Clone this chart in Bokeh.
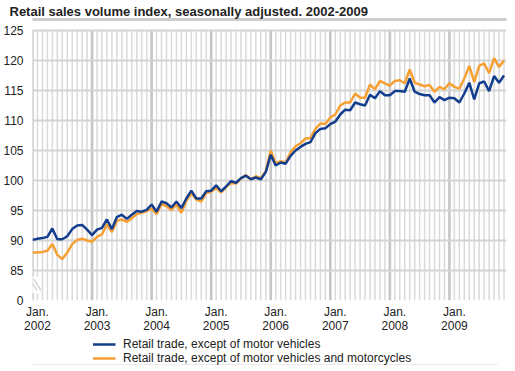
from bokeh.plotting import figure
from bokeh.layouts import column
from bokeh.models import (Range1d, FixedTicker, Legend, LegendItem,
                          BoxAnnotation, Arrow, LinearAxis)
from bokeh.embed import file_html
from bokeh.resources import INLINE

title_text = "Retail sales volume index, seasonally adjusted. 2002-2009"
series_names = ["Retail trade, except of motor vehicles",
                "Retail trade, except of motor vehicles and motorcycles"]
years = [2002, 2003, 2004, 2005, 2006, 2007, 2008, 2009]
months = list(range(96))  # Jan 2002 .. Dec 2009

blue_values = [
    90.1, 90.3, 90.4, 90.6, 92.0, 90.2, 90.2, 90.7, 91.9, 92.5, 92.6, 91.8,
    90.9, 91.8, 92.1, 93.5, 91.9, 93.9, 94.3, 93.6, 94.3, 94.9, 94.8, 95.1,
    96.0, 94.8, 96.5, 96.2, 95.5, 96.5, 95.4, 97.0, 98.3, 97.0, 97.0, 98.2,
    98.3, 99.2, 98.2, 99.0, 99.9, 99.6, 100.4, 100.8, 100.2, 100.5, 100.2, 101.4,
    104.3, 102.5, 103.0, 102.8, 104.1, 105.0, 105.6, 106.1, 106.4, 107.9, 108.6, 108.7,
    109.4, 109.8, 111.0, 111.8, 111.7, 113.0, 112.7, 112.5, 114.3, 113.7, 114.9, 114.2,
    114.2, 114.9, 114.9, 114.8, 117.0, 114.8, 114.4, 114.2, 114.2, 113.0, 113.9, 113.4,
    113.8, 113.7, 113.0, 114.5, 116.3, 113.5, 116.2, 116.5, 114.9, 117.4, 116.3, 117.5,
]
orange_values = [
    88.0, 88.0, 88.1, 88.3, 89.4, 87.6, 86.9, 88.0, 89.4, 90.1, 90.3, 90.0,
    89.8, 90.6, 91.0, 92.7, 91.4, 93.3, 93.5, 93.1, 93.7, 94.4, 94.6, 94.9,
    95.3, 94.4, 96.1, 95.7, 95.1, 96.0, 94.6, 96.6, 97.9, 96.8, 96.5, 97.9,
    98.1, 98.8, 98.0, 98.9, 99.6, 99.5, 100.3, 100.9, 100.2, 100.7, 100.4, 101.6,
    105.0, 102.9, 103.2, 103.0, 104.7, 105.7, 106.2, 107.0, 107.1, 108.6, 109.5, 109.4,
    110.5, 111.0, 112.5, 113.0, 113.0, 114.5, 113.8, 113.8, 116.0, 115.2, 116.6, 116.2,
    115.8, 116.6, 116.7, 116.2, 118.5, 116.3, 116.0, 115.7, 115.9, 114.8, 115.6, 115.2,
    116.2, 115.6, 115.3, 117.0, 119.1, 116.4, 119.1, 119.5, 117.9, 120.4, 118.9, 120.0,
]

y_ticks = [80, 85, 90, 95, 100, 105, 110, 115, 120, 125]
y_tick_labels = ["0", "85", "90", "95", "100", "105", "110", "115", "120", "125"]
x_tick_labels = ["Jan.\n%d" % y for y in years]

BLUE = "#133d8d"
ORANGE = "#f6a033"
FONT = "Liberation Sans"
TXT = "#222222"
W = 499


def rule_axis(color, width):
    return LinearAxis(ticker=FixedTicker(ticks=[]), axis_line_color=color,
                      axis_line_width=width, major_tick_line_color=None,
                      minor_tick_line_color=None, major_label_text_font_size="0px",
                      major_label_standoff=0, major_tick_out=0, minor_tick_out=0,
                      major_tick_in=0, minor_tick_in=0)


# ---------------- main chart ----------------
p = figure(width=None, height=None, frame_width=474, frame_height=281,
           output_backend="svg", toolbar_location=None,
           title=title_text, x_range=Range1d(0, 95.5), y_range=Range1d(80, 126.83),
           min_border_left=22, min_border_right=2, min_border_top=0,
           min_border_bottom=0, outline_line_color=None)

p.title.text_font = FONT
p.title.text_font_size = "13px"
p.title.text_font_style = "bold"
p.title.text_color = TXT
p.title.align = "left"
p.title.offset = -23
p.title.standoff = 2

# grids
jan_idx = [m for m in months if m % 12 == 0]
other_idx = [m for m in months if m % 12 != 0]
p.xgrid.visible = False
y_lo, y_hi = y_ticks[0], y_ticks[-1]
p.segment(x0=other_idx, y0=[y_lo] * len(other_idx), x1=other_idx,
          y1=[y_hi] * len(other_idx), line_color="#dadada", line_width=1.5,
          level="underlay")
p.segment(x0=jan_idx, y0=[y_lo] * len(jan_idx), x1=jan_idx,
          y1=[y_hi] * len(jan_idx), line_color="#c6c6c6", line_width=2.6,
          level="underlay")
p.ygrid.ticker = FixedTicker(ticks=y_ticks)
p.ygrid.grid_line_color = "#d3d3d3"
p.ygrid.grid_line_width = 1.8

# axes
xa = p.below[0]
ya = p.left[0]
label_pos = [m + 1 for m in jan_idx]
xa.ticker = FixedTicker(ticks=label_pos)
xa.major_label_overrides = {pos: lab for pos, lab in zip(label_pos, x_tick_labels)}
ya.ticker = FixedTicker(ticks=y_ticks)
ya.major_label_overrides = {tk: lab for tk, lab in zip(y_ticks, y_tick_labels)}
for ax in (xa, ya):
    ax.axis_line_color = None
    ax.major_tick_line_color = None
    ax.minor_tick_line_color = None
    ax.major_label_text_font = FONT
    ax.major_label_text_font_size = "12px"
    ax.major_label_text_color = TXT
xa.major_label_standoff = -2
xa.major_label_text_line_height = 1.05
ya.major_label_standoff = 3

# grey rule between title and plot
p.add_layout(rule_axis("#cdcdcd", 3), "above")

# axis break marker
p.add_layout(BoxAnnotation(left=-1, right=1.5, bottom=81.2, top=84.0,
                           fill_color="white", fill_alpha=1, line_color=None))
p.add_layout(Arrow(x_start=-0.6, y_start=83.6, x_end=0.9, y_end=81.7, end=None,
                   line_color="#cfcfcf", line_width=1.3))
p.add_layout(Arrow(x_start=0.2, y_start=83.6, x_end=1.7, y_end=81.7, end=None,
                   line_color="#cfcfcf", line_width=1.3))

p.line(months, orange_values, line_color=ORANGE, line_width=2.5)
p.line(months, blue_values, line_color=BLUE, line_width=2.5)

# ---------------- legend strip ----------------
lg = figure(width=W, height=29, output_backend="svg", toolbar_location=None,
            title=None, x_axis_type=None, y_axis_type=None, min_border=0,
            x_range=Range1d(0, 1), y_range=Range1d(0, 1), outline_line_color=None)
k_blue = lg.line(months, blue_values, line_color=BLUE, line_width=2.5, visible=False)
k_orange = lg.line(months, orange_values, line_color=ORANGE, line_width=2.5, visible=False)
legend = Legend(items=[LegendItem(label=series_names[0], renderers=[k_blue]),
                       LegendItem(label=series_names[1], renderers=[k_orange])],
                orientation="vertical", location="top_center", label_width=314,
                glyph_width=23, glyph_height=12, label_height=12, spacing=-4,
                padding=0, margin=1, label_standoff=8,
                border_line_color=None, background_fill_alpha=0,
                label_text_font=FONT, label_text_font_size="12px",
                label_text_color=TXT)
lg.add_layout(legend)
lg.add_layout(rule_axis("#d6d6d6", 2), "below")

layout = column(p, lg, spacing=0)
open("out.html", "w").write(file_html(layout, INLINE))
